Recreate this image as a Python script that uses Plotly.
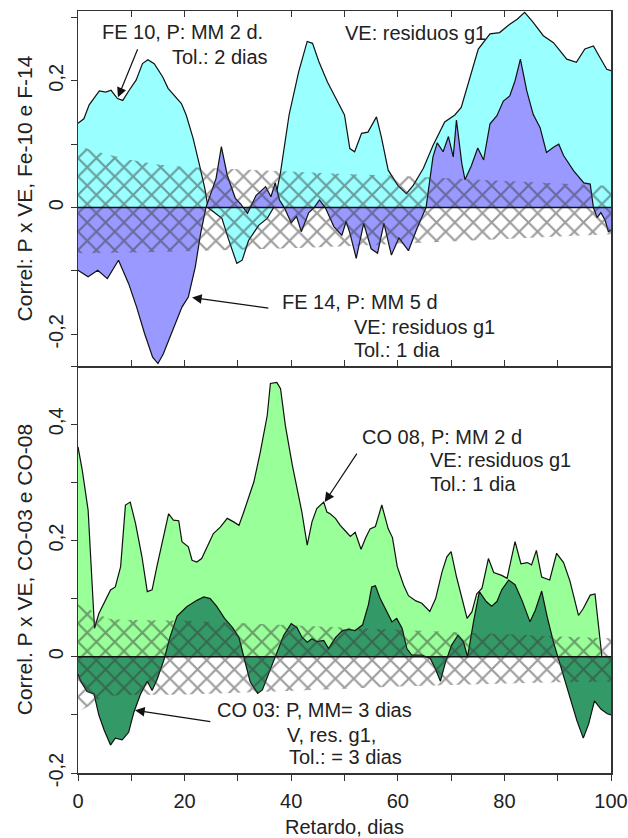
import plotly.graph_objects as go

# ---------------- data ----------------
# Top panel: FE 10 (cyan) and FE 14 (violet); lag in days
fe10_x = [0, 1.1, 2.1, 4, 5.2, 6.2, 7.4, 8.4, 9.6, 10.9,
          12.1, 13.1, 14.3, 15.9, 16.9, 18.1, 19.4, 20.3, 21.6, 22.8,
          23.8, 24.4, 27, 28.2, 29.8, 30.8, 32, 33.9, 35.5, 36.7,
          38, 39.6, 41.4, 43, 44, 45.2, 46.8, 48.4, 50, 51,
          51.9, 53.2, 54.4, 56, 56.9, 58.2, 60, 61.6, 62.9, 64.8,
          66.6, 68.8, 70.7, 71.9, 73.5, 75.1, 77.3, 79.1, 81, 82.4,
          83.8, 85.4, 87.3, 89.2, 91.7, 93.5, 95.1, 96.7, 97.9, 99.2,
          100]
fe10_y = [0.133, 0.14, 0.162, 0.184, 0.182, 0.185, 0.172, 0.169, 0.185, 0.201,
          0.227, 0.233, 0.227, 0.206, 0.188, 0.177, 0.164, 0.146, 0.109, 0.067,
          0.03, 0.0, -0.017, -0.049, -0.088, -0.083, -0.052, -0.028, -0.017, 0.0,
          0.056, 0.146, 0.214, 0.262, 0.259, 0.23, 0.198, 0.172, 0.146, 0.093,
          0.088, 0.117, 0.119, 0.143, 0.112, 0.059, 0.035, 0.022, 0.035, 0.062,
          0.098, 0.135, 0.146, 0.158, 0.204, 0.25, 0.274, 0.276, 0.289, 0.297,
          0.308, 0.292, 0.271, 0.26, 0.234, 0.229, 0.25, 0.255, 0.237, 0.218,
          0.216]

fe14_x = [0, 1.9, 3.7, 5.5, 7.6, 9.5, 11, 12.5, 14, 15,
          16, 17, 18, 19.5, 20.7, 22, 23, 24, 25.9, 26.9,
          28, 29.5, 30.5, 31.8, 33.4, 35.2, 36.2, 37, 37.8, 38.7,
          40, 41, 41.9, 43.3, 44.3, 45.3, 46.4, 48, 49.5, 50.3,
          51, 52.2, 53.6, 55, 56.2, 57.4, 58.8, 60.2, 62, 63.6,
          65.3, 66.6, 67.4, 68.5, 69.5, 70.4, 71, 72, 72.6, 73.8,
          75, 76.1, 77.3, 78.6, 79.8, 81, 82, 83, 84.2, 85.4,
          86.7, 87.9, 89.2, 90.2, 91.1, 93, 94.9, 96.1, 96.7, 97.4,
          98.1, 98.9, 99.5, 100]
fe14_y = [-0.099, -0.109, -0.099, -0.112, -0.083, -0.12, -0.157, -0.199, -0.236, -0.246,
          -0.231, -0.209, -0.188, -0.157, -0.141, -0.094, -0.041, 0.0, 0.046, 0.096,
          0.051, 0.015, 0.006, -0.009, 0.019, 0.033, 0.017, 0.039, 0.012, 0.0,
          -0.024, -0.014, -0.038, -0.008, 0.0, 0.012, 0.0, -0.03, -0.044, -0.022,
          -0.04, -0.08, -0.025, -0.065, -0.072, -0.025, -0.075, -0.048, -0.068, -0.033,
          0.0, 0.08, 0.102, 0.088, 0.112, 0.08, 0.138, 0.07, 0.044, 0.066,
          0.094, 0.075, 0.132, 0.145, 0.168, 0.176, 0.2, 0.234, 0.184, 0.147,
          0.126, 0.087, 0.095, 0.1, 0.082, 0.058, 0.039, 0.037, 0.0, -0.016,
          -0.008, -0.02, -0.038, -0.036]

# Bottom panel: CO 08 (light green) and CO 03 (dark green)
co08_x = [0, 0.8, 1.9, 3.1, 3.9, 5.2, 6.1, 7, 8, 8.9,
          9.8, 10.8, 12, 13, 13.9, 14.8, 16.1, 17, 17.9, 18.9,
          19.5, 20.7, 21.4, 22.3, 23.2, 24.2, 25.4, 26.7, 28, 29.2,
          30.2, 31.1, 33, 34.2, 35.5, 36.1, 37.3, 38, 38.9, 40.2,
          41.4, 42, 43, 43.9, 44.8, 46.1, 46.7, 47.3, 48.3, 49.2,
          50.3, 51.1, 52, 53.1, 54, 54.8, 55.8, 57, 58.2, 59,
          59.9, 61.1, 62, 63.4, 64.5, 66, 67.1, 68.3, 69.2, 70,
          71, 72, 73, 73.9, 74.8, 75.8, 77, 78, 79.5, 80.5,
          81.1, 82, 83.1, 84.3, 85.1, 86, 87, 88.5, 89.8, 91.1,
          92.3, 93.9, 94.8, 96.1, 97, 98.3, 100]
co08_y = [0.361, 0.321, 0.252, 0.049, 0.074, 0.097, 0.115, 0.12, 0.155, 0.261,
          0.266, 0.229, 0.172, 0.112, 0.115, 0.155, 0.212, 0.246, 0.235, 0.234,
          0.198, 0.189, 0.166, 0.163, 0.169, 0.189, 0.212, 0.223, 0.238, 0.232,
          0.226, 0.249, 0.301, 0.352, 0.415, 0.47, 0.472, 0.461, 0.398, 0.33,
          0.272, 0.249, 0.192, 0.232, 0.255, 0.266, 0.249, 0.246, 0.238, 0.226,
          0.215, 0.207, 0.214, 0.185, 0.205, 0.22, 0.224, 0.261, 0.22, 0.205,
          0.155, 0.123, 0.105, 0.096, 0.092, 0.078, 0.1, 0.146, 0.172, 0.181,
          0.138, 0.1, 0.066, 0.077, 0.108, 0.118, 0.169, 0.145, 0.14, 0.135,
          0.16, 0.198, 0.16, 0.162, 0.158, 0.183, 0.137, 0.132, 0.178, 0.162,
          0.13, 0.071, 0.083, 0.106, 0.108, 0.0, -0.005]

co03_x = [0, 0.5, 1.7, 3, 3.9, 4.9, 6.1, 7, 8.3, 9.5,
          10.5, 11.7, 13, 13.9, 14.8, 16.1, 17.3, 18.6, 20.4, 22.3,
          23.6, 24.8, 26, 27.5, 29, 30.2, 31.1, 32.3, 33.7, 34.6,
          35.9, 37, 38.6, 40, 41.1, 42, 43, 43.9, 44.8, 46.1,
          47, 48.3, 49.6, 50.8, 52, 53.4, 54.5, 55.1, 55.8, 56.7,
          57.9, 58.9, 59.8, 60.8, 61.7, 62.6, 64.5, 66.1, 67, 68,
          68.9, 70.1, 71.3, 72.3, 73.1, 74.2, 75.3, 76.6, 77.6, 78.6,
          79.5, 80.8, 82, 83.3, 84.8, 85.8, 87, 88, 89.2, 90,
          91.4, 92.5, 93.6, 94.8, 95.8, 96.9, 98.1, 99.3, 100]
co03_y = [-0.03, -0.042, -0.06, -0.064, -0.1, -0.126, -0.152, -0.14, -0.143, -0.13,
          -0.095, -0.065, -0.042, -0.058, -0.04, -0.006, 0.035, 0.07, 0.086, 0.097,
          0.103, 0.1, 0.087, 0.066, 0.05, 0.033, 0.0, -0.043, -0.063, -0.057,
          -0.026, 0.0, 0.037, 0.057, 0.05, 0.034, 0.025, 0.031, 0.026, 0.028,
          0.014, 0.033, 0.045, 0.047, 0.045, 0.055, 0.09, 0.12, 0.122, 0.1,
          0.077, 0.06, 0.066, 0.049, 0.014, 0.003, 0.003, -0.003, -0.02, -0.042,
          -0.011, 0.02, 0.037, 0.026, 0.0, 0.06, 0.112, 0.095, 0.087, 0.095,
          0.115, 0.132, 0.124, 0.097, 0.06, 0.08, 0.113, 0.07, 0.025, 0.0,
          -0.045, -0.08, -0.11, -0.14, -0.116, -0.076, -0.09, -0.098, -0.1]

# Significance (tolerance) bands, hatched
band_top_x = [0, 5, 10, 15, 20, 30, 40, 50, 60, 70, 80, 90, 100]
band_top_hi = [0.097, 0.085, 0.075, 0.068, 0.064, 0.06, 0.057, 0.053, 0.05, 0.046, 0.042, 0.038, 0.034]
band_top_lo = [-0.072, -0.072, -0.071, -0.07, -0.069, -0.067, -0.064, -0.061, -0.057, -0.053, -0.049, -0.045, -0.042]

band_bot_x = [0, 2, 4, 6, 10, 20, 30, 40, 50, 60, 70, 80, 90, 100]
band_bot_hi = [0.09, 0.082, 0.072, 0.065, 0.063, 0.062, 0.058, 0.054, 0.05, 0.046, 0.042, 0.038, 0.035, 0.032]
band_bot_lo = [-0.095, -0.085, -0.072, -0.067, -0.066, -0.065, -0.062, -0.059, -0.055, -0.051, -0.048, -0.046, -0.044, -0.043]

# Ticks
x_tickvals = [0, 10, 20, 30, 40, 50, 60, 70, 80, 90, 100]
x_ticktext = ["0", "", "20", "", "40", "", "60", "", "80", "", "100"]
ytop_tickvals = [-0.2, -0.1, 0, 0.1, 0.2, 0.3]
ytop_ticktext = ["-0,2", "", "0", "", "0,2", ""]
ybot_tickvals = [-0.2, -0.1, 0, 0.1, 0.2, 0.3, 0.4, 0.5]
ybot_ticktext = ["-0,2", "", "0", "", "0,2", "", "0,4", ""]

# ---------------- styling ----------------
FONT = "Liberation Sans, Arial, sans-serif"
TXT = "#222222"
C_FE10 = "#99FFFF"
C_FE14 = "#9999FF"
C_CO08 = "#99FF99"
C_CO03 = "#339966"
FS = 20

fig = go.Figure()


def area(x, y, color, xa, ya):
    fig.add_trace(go.Scatter(
        x=x, y=y, mode="lines", fill="tozeroy", fillcolor=color,
        line=dict(color="#111111", width=1.2), xaxis=xa, yaxis=ya,
        showlegend=False, hoverinfo="skip"))


def band(x, lo, hi, xa, ya):
    fig.add_trace(go.Scatter(
        x=x, y=lo, mode="lines", line=dict(width=0, color="rgba(0,0,0,0)"),
        xaxis=xa, yaxis=ya, showlegend=False, hoverinfo="skip"))
    fig.add_trace(go.Scatter(
        x=x, y=hi, mode="lines", line=dict(width=0, color="rgba(0,0,0,0)"),
        fill="tonexty", fillcolor="rgba(0,0,0,0)",
        fillpattern=dict(shape="x", fgcolor="#3a3a3a", bgcolor="rgba(0,0,0,0)",
                         size=13, solidity=0.3, fillmode="overlay"),
        opacity=0.8,
        xaxis=xa, yaxis=ya, showlegend=False, hoverinfo="skip"))


# top panel (x2, y2)
area(fe10_x, fe10_y, C_FE10, "x2", "y2")
area(fe14_x, fe14_y, C_FE14, "x2", "y2")
band(band_top_x, band_top_lo, band_top_hi, "x2", "y2")

# bottom panel (x, y)
area(co08_x, co08_y, C_CO08, "x", "y")
area(co03_x, co03_y, C_CO03, "x", "y")
band(band_bot_x, band_bot_lo, band_bot_hi, "x", "y")

# zero lines on top
for xr, yr in (("x2 domain", "y2"), ("x domain", "y")):
    fig.add_shape(type="line", xref=xr, yref=yr, x0=0, x1=1, y0=0, y1=0,
                  line=dict(color="#111111", width=1.5), layer="above")

tickfont = dict(family=FONT, size=FS, color=TXT)
common = dict(showgrid=False, zeroline=False, showline=True, linecolor="#333333",
              linewidth=1.5, tickcolor="#333333", tickwidth=1, ticklen=6,
              tickfont=tickfont, automargin=False, ticklabeloverflow="allow")

DOM_SPLIT = 0.534

fig.update_layout(
    width=628, height=838,
    margin=dict(l=78, r=17, t=11, b=65, autoexpand=False),
    paper_bgcolor="white", plot_bgcolor="white",
    font=dict(family=FONT, size=FS, color=TXT),
    showlegend=False,
    xaxis=dict(domain=[0, 1], range=[0, 100], anchor="y", tickmode="array",
               tickvals=x_tickvals, ticktext=x_ticktext, ticks="outside",
               mirror=False, ticklabelstandoff=3,
               title=dict(text="Retardo, dias", font=dict(family=FONT, size=FS, color=TXT),
                          standoff=10),
               **common),
    yaxis=dict(domain=[0, DOM_SPLIT], range=[-0.2, 0.5], anchor="x", tickmode="array",
               tickvals=ybot_tickvals, ticktext=ybot_ticktext, ticks="outside",
               tickangle=-90, mirror=True,
               title=dict(text="Correl. P x VE, CO-03 e CO-08",
                          font=dict(family=FONT, size=21, color=TXT), standoff=6),
               **common),
    xaxis2=dict(domain=[0, 1], range=[0, 100], anchor="y2", tickmode="array",
                tickvals=x_tickvals, showticklabels=False, ticks="inside",
                mirror="ticks", **common),
    yaxis2=dict(domain=[DOM_SPLIT, 1], range=[-0.25, 0.31], anchor="x2", tickmode="array",
                tickvals=ytop_tickvals, ticktext=ytop_ticktext, ticks="outside",
                tickangle=-90, mirror=True,
                title=dict(text="Correl: P x VE, Fe-10 e F-14",
                           font=dict(family=FONT, size=21, color=TXT), standoff=6),
                **common),
    yaxis3=dict(overlaying="y", side="right", anchor="x", range=[-0.2, 0.5],
                tickmode="array", tickvals=ybot_tickvals, showticklabels=False,
                ticks="inside", showline=False, showgrid=False, zeroline=False,
                tickcolor="#333333", ticklen=6, automargin=False),
    yaxis4=dict(overlaying="y2", side="right", anchor="x2", range=[-0.25, 0.31],
                tickmode="array", tickvals=ytop_tickvals, showticklabels=False,
                ticks="inside", showline=False, showgrid=False, zeroline=False,
                tickcolor="#333333", ticklen=6, automargin=False),
)

# ---------------- annotations ----------------
def label(text, x, y, xa, ya):
    fig.add_annotation(text=text, x=x, y=y, xref=xa, yref=ya, xanchor="left",
                       yanchor="middle", showarrow=False,
                       font=dict(family=FONT, size=FS, color=TXT))


def arrow(x, y, ax, ay, xa, ya):
    fig.add_annotation(text="", x=x, y=y, ax=ax, ay=ay, xref=xa, yref=ya,
                       axref=xa, ayref=ya, showarrow=True, arrowhead=2,
                       arrowsize=1.6, arrowwidth=1.2, arrowcolor="#111111")


# top panel texts
label("FE 10, P: MM 2 d.", 4.1, 0.277, "x2", "y2")
label("Tol.: 2 dias", 17.3, 0.237, "x2", "y2")
label("VE: residuos g1", 49.7, 0.275, "x2", "y2")
label("FE 14, P: MM 5 d", 37.9, -0.149, "x2", "y2")
label("VE: residuos g1", 51.4, -0.189, "x2", "y2")
label("Tol.: 1 dia", 51.4, -0.224, "x2", "y2")
arrow(7.5, 0.174, 11.3, 0.252, "x2", "y2")
arrow(21.4, -0.142, 36.0, -0.159, "x2", "y2")

# bottom panel texts
label("CO 08, P: MM 2 d", 52.9, 0.378, "x", "y")
label("VE: residuos g1", 65.7, 0.338, "x", "y")
label("Tol.: 1 dia", 65.7, 0.298, "x", "y")
label("CO 03: P, MM= 3 dias", 25.7, -0.092, "x", "y")
label("V, res. g1,", 38.8, -0.135, "x", "y")
label("Tol.: = 3 dias", 39.2, -0.173, "x", "y")
arrow(46.3, 0.266, 52.5, 0.352, "x", "y")
arrow(10.7, -0.092, 25.1, -0.112, "x", "y")

# remove the page's default body margin so the 628x838 figure fills the window
fig.write_html(
    "out.html",
    config={"displayModeBar": False, "staticPlot": True},
    post_script="document.body.style.margin='0';"
                "document.documentElement.style.overflow='hidden';",
)
